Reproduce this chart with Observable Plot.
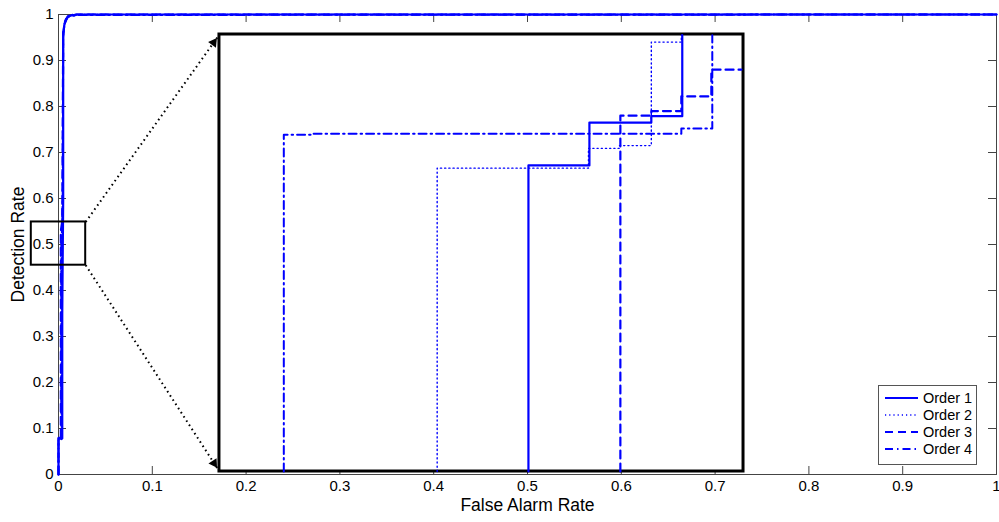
<!DOCTYPE html>
<html><head><meta charset="utf-8">
<script src="https://cdn.jsdelivr.net/npm/d3@7"></script>
<script src="https://cdn.jsdelivr.net/npm/@observablehq/plot@0.6"></script>
<style>
body{margin:0;background:#fff;}
#chart{position:relative;width:999px;height:522px;font-family:"Liberation Sans",Arial,Helvetica,sans-serif;}
#legend{position:absolute;left:878px;top:385px;}
</style></head><body><div id="chart"></div>
<script>
// ---- data ----
const seriesNames = ["Order 1", "Order 2", "Order 3", "Order 4"];
const xTicks = [0, 0.1, 0.2, 0.3, 0.4, 0.5, 0.6, 0.7, 0.8, 0.9, 1];
const yTicks = [0, 0.1, 0.2, 0.3, 0.4, 0.5, 0.6, 0.7, 0.8, 0.9, 1];

// full ROC curves [false alarm rate, detection rate]
const mainOrder1 = [[0,0],[0,0.078],[0.004,0.078],[0.004,0.35],[0.005,0.6],[0.005,0.95],[0.006,0.975],[0.008,0.99],[0.011,0.997],[0.02,1],[1,1]];
const mainOrder2 = [[0,0],[0,0.075],[0.003,0.075],[0.003,0.5],[0.0045,0.52],[0.005,0.95],[0.006,0.98],[0.009,0.995],[0.015,1],[1,1]];
const mainOrder3 = [[0,0],[0,0.08],[0.0025,0.08],[0.0025,0.53],[0.004,0.55],[0.005,0.96],[0.007,0.985],[0.01,0.996],[0.02,1],[1,1]];
const mainOrder4 = [[0,0],[0,0.08],[0.003,0.08],[0.003,0.48],[0.0045,0.6],[0.005,0.96],[0.0065,0.98],[0.01,0.995],[0.02,0.999],[1,1]];

// zoomed region and where the magnified view is drawn
const zoomBox = {x1: -0.029, x2: 0.029, y1: 0.455, y2: 0.549};
const insetBox = {x1: 0.1716, x2: 0.7303, y1: 0.0065, y2: 0.9565};

// magnified curves, in the coordinates where they appear on the chart
const insetOrder1 = [[0.501,0.0065],[0.501,0.672],[0.566,0.672],[0.566,0.765],[0.632,0.765],[0.632,0.779],[0.665,0.779],[0.665,0.955]];
const insetOrder2 = [[0.4037,0.0065],[0.4037,0.666],[0.565,0.666],[0.565,0.709],[0.598,0.709],[0.598,0.715],[0.632,0.715],[0.632,0.94],[0.664,0.94],[0.664,0.955]];
const insetOrder3 = [[0.599,0.0065],[0.599,0.780],[0.632,0.780],[0.632,0.790],[0.664,0.790],[0.664,0.822],[0.696,0.822],[0.696,0.880],[0.728,0.880]];
const insetOrder4 = [[0.2402,0.0065],[0.2402,0.7385],[0.272,0.7385],[0.272,0.7407],[0.664,0.7407],[0.664,0.752],[0.697,0.752],[0.697,0.955]];

// ---- styles ----
const blue = "#0000ff";
const dashes = [null, "1.2,3", "8,5", "8,4,1.5,4"];
const widths = [2.2, 1.4, 2.2, 2];
const W = 999, H = 522, mL = 58, mR = 3, mT = 14, mB = 48;
const pw = W - mL - mR, ph = H - mT - mB;
const font = "'Liberation Sans', Arial, Helvetica, sans-serif";

const mains = [mainOrder1, mainOrder2, mainOrder3, mainOrder4];
const insets = [insetOrder1, insetOrder2, insetOrder3, insetOrder4];

function head(from, to) {
  const dx = (to[0] - from[0]) * pw, dy = (to[1] - from[1]) * ph;
  const L = Math.hypot(dx, dy), ux = dx / L, uy = dy / L;
  const back = 10;
  return {x: to[0] - ux * back / pw, y: to[1] - uy * back / ph, r: Math.atan2(dx, dy) * 180 / Math.PI};
}
const arrowLinks = [
  {x1: zoomBox.x2, y1: zoomBox.y2, x2: insetBox.x1, y2: insetBox.y2},
  {x1: zoomBox.x2, y1: zoomBox.y1, x2: insetBox.x1, y2: insetBox.y1}
];
const heads = arrowLinks.map(a => head([a.x1, a.y1], [a.x2, a.y2]));

const marks = [];
marks.push(Plot.frame({stroke: "#444", strokeWidth: 1}));
marks.push(Plot.tickX(xTicks, {x: d => d, insetTop: ph - 8, stroke: "#444"}));
marks.push(Plot.tickX(xTicks, {x: d => d, insetBottom: ph - 8, stroke: "#444"}));
marks.push(Plot.tickY(yTicks, {y: d => d, insetRight: pw - 8, stroke: "#444"}));
marks.push(Plot.tickY(yTicks, {y: d => d, insetLeft: pw - 8, stroke: "#444"}));
mains.forEach((pts, i) => marks.push(Plot.line(pts, {x: d => d[0], y: d => d[1], stroke: blue, strokeWidth: widths[i], strokeDasharray: dashes[i]})));
marks.push(Plot.rect([zoomBox], {x1: "x1", x2: "x2", y1: "y1", y2: "y2", fill: "none", stroke: "#000", strokeWidth: 2}));
marks.push(Plot.link(arrowLinks, {x1: "x1", y1: "y1", x2: "x2", y2: "y2", stroke: "#000", strokeWidth: 2, strokeDasharray: "1.6,3.4"}));
marks.push(Plot.rect([insetBox], {x1: "x1", x2: "x2", y1: "y1", y2: "y2", fill: "#fff", stroke: "#000", strokeWidth: 3}));
insets.forEach((pts, i) => marks.push(Plot.line(pts, {x: d => d[0], y: d => d[1], stroke: blue, strokeWidth: widths[i], strokeDasharray: dashes[i]})));
marks.push(Plot.dot(heads, {x: "x", y: "y", rotate: "r", symbol: "triangle2", r: 4.6, fill: "#000", stroke: "none"}));
marks.push(Plot.axisX(xTicks, {anchor: "bottom", tickSize: 0, tickPadding: 6, label: null, tickFormat: d3.format("~g"), fill: "#000", fontSize: 15}));
marks.push(Plot.axisY(yTicks, {anchor: "left", tickSize: 0, tickPadding: 5, label: null, tickFormat: d3.format("~g"), fill: "#000", fontSize: 15}));
marks.push(Plot.text(["False Alarm Rate"], {frameAnchor: "bottom", dy: 31, lineAnchor: "middle", textAnchor: "middle", fontSize: 17.5, fill: "#000"}));
marks.push(Plot.text(["Detection Rate"], {frameAnchor: "left", dx: -40, rotate: -90, textAnchor: "middle", lineAnchor: "middle", fontSize: 17.5, fill: "#000"}));

const chart = Plot.plot({
  width: W, height: H, marginLeft: mL, marginRight: mR, marginTop: mT, marginBottom: mB,
  x: {domain: [0, 1]}, y: {domain: [0, 1]},
  style: {fontSize: "15px", fontFamily: font, background: "#fff", overflow: "visible"},
  marks
});
const root = document.getElementById("chart");
root.appendChild(chart);

// legend
const lg = d3.select(root).append("svg").attr("id", "legend").attr("width", 100).attr("height", 81);
lg.append("rect").attr("x", 0.5).attr("y", 0.5).attr("width", 98).attr("height", 79).attr("fill", "#fff").attr("stroke", "#555");
seriesNames.forEach((name, i) => {
  const y = 13 + i * 17;
  lg.append("line").attr("x1", 7).attr("x2", 40).attr("y1", y).attr("y2", y)
    .attr("stroke", blue).attr("stroke-width", widths[i]).attr("stroke-dasharray", dashes[i]);
  lg.append("text").attr("x", 45).attr("y", y).attr("dy", "0.35em")
    .attr("font-size", 14.5).attr("font-family", font).attr("fill", "#000").text(name);
});
</script></body></html>
